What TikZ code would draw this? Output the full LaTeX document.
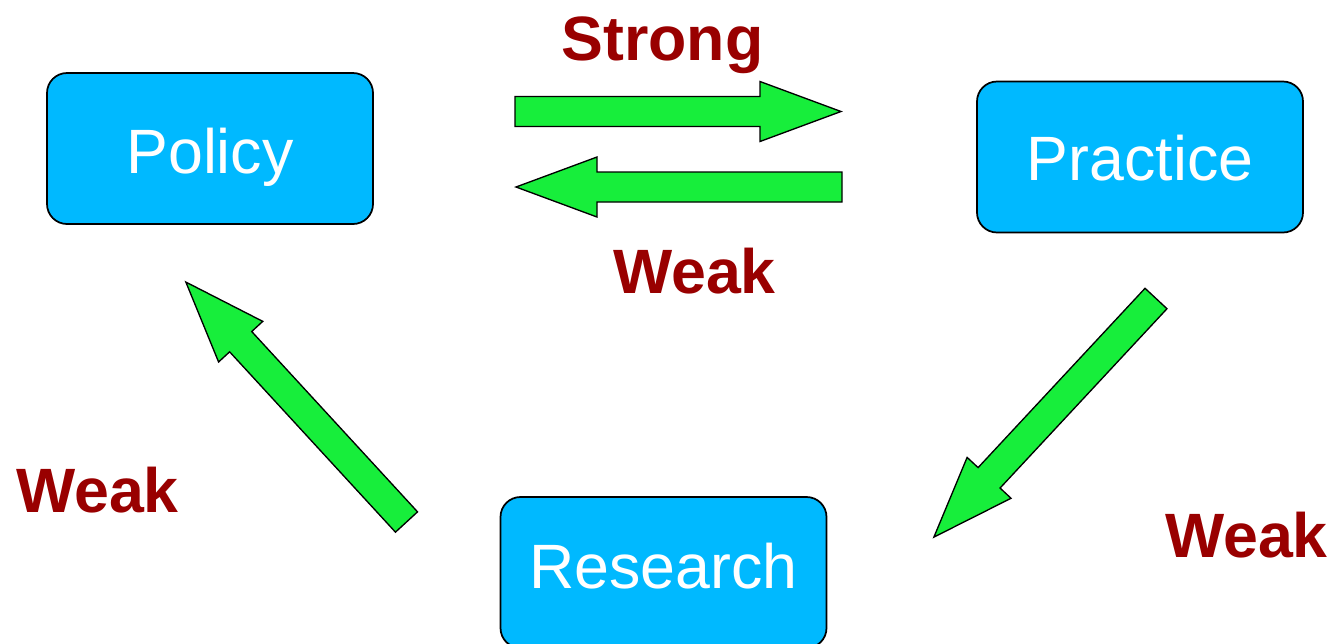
\documentclass[tikz,border=0pt]{standalone}
\usepackage{fontspec}
\setmainfont{Liberation Sans}
\usepackage{tikz}

\definecolor{boxblue}{RGB}{0,185,255}
\definecolor{arrowgreen}{RGB}{23,238,59}
\definecolor{labelred}{RGB}{153,0,0}

\begin{document}
\begin{tikzpicture}[x=0.75pt,y=-0.75pt,
    box/.style={draw=black,line width=1.3pt,fill=boxblue,rounded corners=15pt,
        minimum width=244.5pt,minimum height=113.25pt,inner sep=0pt,
        text=white,font=\fontsize{47}{56}\selectfont,text depth=0pt},
    strength/.style={text=labelred,font=\fontsize{47}{56}\selectfont\bfseries,
        inner sep=0pt,anchor=base},
    blockarrow/.pic={
        \draw[fill=arrowgreen,draw=black,line width=1pt,line join=miter]
            (0,-15) -- (245,-15) -- (245,-30) -- (326,0) -- (245,30)
            -- (245,15) -- (0,15) -- cycle;
    }]
    \clip (0,0) rectangle (1337,643);

		\node[box,text height=36.75pt] (policy) at (210,148.5) {Policy};
		\node[box,text height=34.5pt] (practice) at (1140,157) {Practice};
		\node[box,text height=34pt,text depth=10.75pt] (research) at (663.5,572.5) {Research};

		\pic at (515,111.5) {blockarrow};
		\pic[rotate=180] at (842,187) {blockarrow};
		\pic[rotate=132.6] at (406.5,522) {blockarrow};
		\pic[rotate=227.05] at (1156,298.5) {blockarrow};

		\node[strength] (strong) at (662.5,60) {Strong};
		\node[strength] (weakback) at (694.5,293) {Weak};
		\node[strength] (weakleft) at (97.5,512) {Weak};
		\node[strength] (weakright) at (1246.5,557) {Weak};

    \end{tikzpicture}
\end{document}
